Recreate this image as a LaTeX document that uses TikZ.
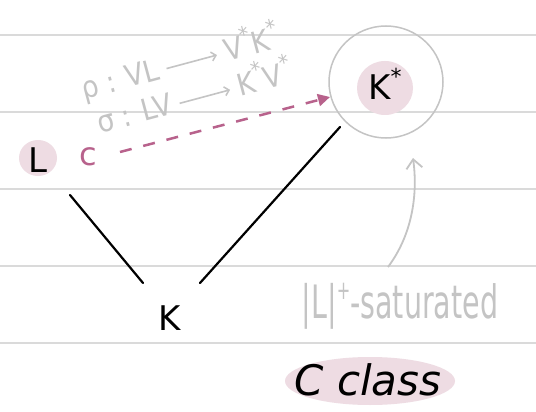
\documentclass[tikz,border=0pt]{standalone}
\usepackage{fontspec}
\setmainfont{DejaVu Sans}
\usetikzlibrary{arrows.meta}
\definecolor{rule}{HTML}{DADADA}
\definecolor{blush}{HTML}{EEDCE3}
\definecolor{berry}{HTML}{B8628C}
\definecolor{pencil}{HTML}{C4C4C4}
\newcommand{\sstar}{\raisebox{0.45em}{\fontsize{22}{22}\selectfont *}}
\newcommand{\grayarrow}{\hspace{8pt}\raisebox{0.3em}{\tikz[baseline]\draw[line width=1.6pt,-{Straight Barb[length=5pt,width=9pt]}] (0,0) -- (58pt,0);}\hspace{8pt}}
\tikzset{
  ruleline/.style={draw=rule, line width=2.5pt},
  blob/.style={fill=blush, draw=none},
  ink/.style={text=black, font=\fontsize{34}{34}\selectfont},
  edge/.style={draw=black, line width=2.2pt, line cap=round},
  graytext/.style={text=pencil, font=\fontsize{30}{30}\selectfont, inner sep=0pt},
}
\begin{document}
\begin{tikzpicture}[x=1pt,y=-1pt]
\useasboundingbox[fill=white] (0,0) rectangle (536,412);
% ruled lines
\foreach \yy in {35,112,189,266,343} \draw[ruleline] (0,\yy) -- (536,\yy);
% blobs
\fill[blob] (38,158) ellipse (19 and 18);
\fill[blob] (385,88) ellipse (28 and 27);
\fill[blob] (370,381) ellipse (85 and 24);
% nodes
\node[ink] (L) at (38,160) {L};
\node[ink] (K) at (170,318) {K};
\node[ink] (Ks) at (385,84) {K\sstar};
\draw[draw=pencil, line width=1.5pt] (386,82) ellipse (57 and 56);
\node[text=berry, font=\fontsize{32}{32}\selectfont] (c) at (88,157) {c};
\coordinate (c1) at (120,152);
\coordinate (ah) at (330,97);
\draw[draw=berry, line width=2.5pt, dash pattern=on 12pt off 12pt, -{Triangle[length=12pt,width=12pt]}] (c1) -- (ah);
% edges
\coordinate (le1) at (70,195); \coordinate (le2) at (143,283);
\coordinate (re1) at (200,283); \coordinate (re2) at (340,127);
\draw[edge] (le1) -- (le2);
\draw[edge] (re1) -- (re2);
% gray formulas
\node[graytext, rotate=15, anchor=base west] (rho) at (84,100) {\scalebox{0.9}[1]{ρ : VL\grayarrow V\sstar K\sstar}};
\node[graytext, rotate=15, anchor=base west] (sig) at (100,134) {\scalebox{0.9}[1]{σ : LV\grayarrow K\sstar V\sstar}};
% gray arrow
\coordinate (ga1) at (388,267);
\coordinate (ga2) at (413,158);
\draw[draw=pencil, line width=1.8pt, -{Straight Barb[length=9pt,width=16pt]}] (ga1) .. controls (412,235) and (418,195) .. (ga2);
% saturated label
\node[text=pencil, font=\fontsize{46}{46}\selectfont] (sat) at (400,306) {\scalebox{0.62}[1]{|L|\raisebox{0.4em}{\fontsize{26}{26}\selectfont +}-saturated}};
% class label
\node[text=black, font=\itshape\fontsize{42}{42}\selectfont] (cls) at (368,380) {C class};
\end{tikzpicture}
\end{document}
